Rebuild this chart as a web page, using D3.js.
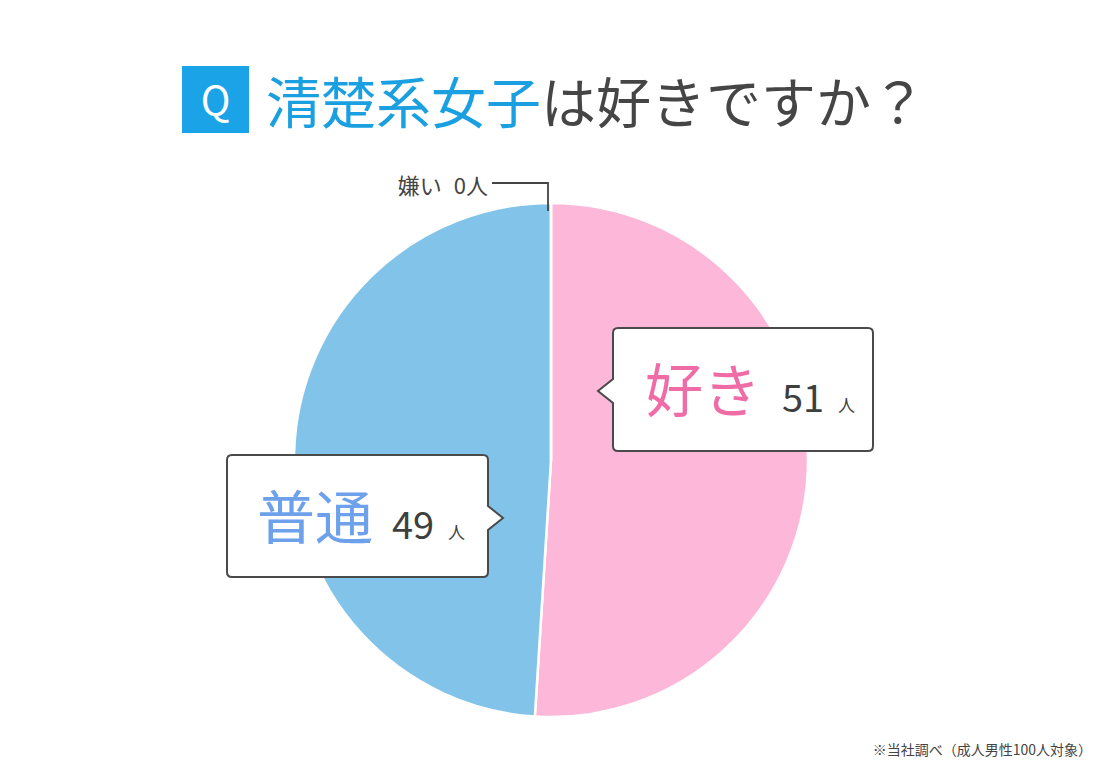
<!DOCTYPE html>
<html><head><meta charset="utf-8">
<script src="https://cdn.jsdelivr.net/npm/d3@7/dist/d3.min.js"></script>
<style>
html,body{margin:0;padding:0;background:#fff;}
svg{display:block;}
text{font-family:"Noto Sans CJK JP","Noto Sans",sans-serif;}
</style></head><body>
<svg id="c" width="1100" height="770"></svg>
<script>
const categories = ["好き", "普通", "嫌い"];
const values = [51, 49, 0];
const unit = "人";
const titleBlue = "清楚系女子";
const titleRest = "は好きですか？";
const footnote = "※当社調べ（成人男性100人対象）";

const W = 1100, H = 770;
const cx = 551, cy = 460, R = 257;
const sliceColors = ["#FDB8D9", "#82C4E9", "#cccccc"];
const labelColors = ["#F06CA7", "#6EA1EC", "#444"];

const svg = d3.select("#c");
svg.append("rect").attr("width", W).attr("height", H).attr("fill", "#fff");

// Title
svg.append("rect").attr("x", 182).attr("y", 66).attr("width", 67).attr("height", 67).attr("fill", "#1AA3E6");
svg.append("text").attr("x", 215.5).attr("y", 115).attr("text-anchor", "middle")
  .attr("font-size", 40).attr("fill", "#fff").text("Q");
const t = svg.append("text").attr("x", 266).attr("y", 123).attr("font-size", 55);
t.append("tspan").attr("fill", "#1AA0E0").text(titleBlue);
t.append("tspan").attr("fill", "#454545").text(titleRest);

// Pie
const pie = d3.pie().sort(null).value(d => d.v).startAngle(0).endAngle(2 * Math.PI);
const data = categories.map((c, i) => ({ c, v: values[i], i }));
const arcs = pie(data);
const arc = d3.arc().innerRadius(0).outerRadius(R);
const g = svg.append("g").attr("transform", `translate(${cx},${cy})`);
g.selectAll("path").data(arcs).join("path")
  .attr("d", arc)
  .attr("fill", d => sliceColors[d.data.i])
  .attr("stroke", "#fff").attr("stroke-width", 2.5);

// Callout boxes
function callout(x, y, w, h, side, py, tip) {
  const r = 5;
  let p;
  if (side === "left") {
    p = `M${x + r},${y} H${x + w - r} Q${x + w},${y} ${x + w},${y + r} V${y + h - r} Q${x + w},${y + h} ${x + w - r},${y + h} H${x + r} Q${x},${y + h} ${x},${y + h - r} V${py + 12} L${x - tip},${py} L${x},${py - 12} V${y + r} Q${x},${y} ${x + r},${y} Z`;
  } else {
    p = `M${x + r},${y} H${x + w - r} Q${x + w},${y} ${x + w},${y + r} V${py - 12} L${x + w + tip},${py} L${x + w},${py + 12} V${y + h - r} Q${x + w},${y + h} ${x + w - r},${y + h} H${x + r} Q${x},${y + h} ${x},${y + h - r} V${y + r} Q${x},${y} ${x + r},${y} Z`;
  }
  svg.append("path").attr("d", p).attr("fill", "#fff").attr("stroke", "#4a4a4a").attr("stroke-width", 2);
}

const boxes = [
  { x: 613, y: 328, w: 260, h: 123, side: "left", py: 391, lx: 645, nx: 782, ux: 838, base: 412 },
  { x: 227, y: 455, w: 261, h: 122, side: "right", py: 518, lx: 257, nx: 392, ux: 448, base: 539 }
];
boxes.forEach((b, i) => {
  callout(b.x, b.y, b.w, b.h, b.side, b.py, 15);
  svg.append("text").attr("x", b.lx).attr("y", b.base).attr("font-size", 58)
    .attr("fill", labelColors[i]).text(categories[i]);
  svg.append("text").attr("x", b.nx).attr("y", b.base).attr("font-size", 38)
    .attr("fill", "#3f3f3f").text(values[i]);
  svg.append("text").attr("x", b.ux).attr("y", b.base).attr("font-size", 17)
    .attr("fill", "#3f3f3f").text(unit);
});

// Zero slice label with leader
const zeroAngle = arcs[2].startAngle;
const zx = cx + Math.sin(zeroAngle) * R - 3;
const zy = cy - Math.cos(zeroAngle) * R;
svg.append("path").attr("d", `M492,183 H${zx} V${zy + 8}`)
  .attr("fill", "none").attr("stroke", "#444").attr("stroke-width", 1.8);
const zl = svg.append("text").attr("x", 488).attr("y", 194).attr("text-anchor", "end")
  .attr("font-size", 22).attr("fill", "#444");
zl.append("tspan").text(categories[2]);
zl.append("tspan").attr("dx", 12).text(`${values[2]}${unit}`);

// Footnote
svg.append("text").attr("x", 1092).attr("y", 755).attr("text-anchor", "end")
  .attr("font-size", 14).attr("fill", "#444").text(footnote);
</script>
</body></html>
